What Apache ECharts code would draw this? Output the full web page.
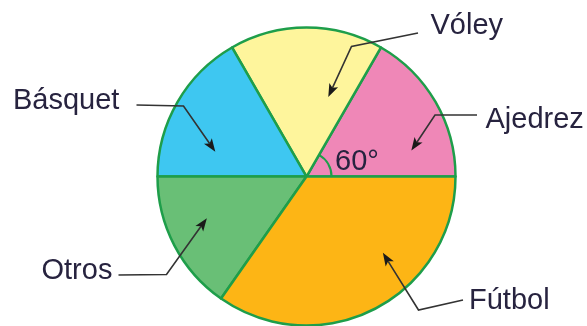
<!DOCTYPE html>
<html>
<head>
<meta charset="utf-8">
<script src="https://cdn.jsdelivr.net/npm/echarts@6/dist/echarts.min.js"></script>
<style>
  html, body { margin: 0; padding: 0; background: #ffffff; }
  #chart { width: 587px; height: 326px; }
</style>
</head>
<body>
<div id="chart"></div>
<script>
// Sports preference, in degrees of the circle
var categories = ['Ajedrez', 'Vóley', 'Básquet', 'Otros', 'Fútbol'];
var degrees = [60, 60, 60, 55, 125];
var sliceColors = ['#EF87B7', '#FEF59C', '#3EC7F1', '#69BF76', '#FDB515'];

// Callout geometry: arrow tip as (angle in degrees, fraction of radius),
// then the elbow point and the label anchor (left edge, text middle)
var tipPolar = [[13.9, 0.72], [74.7, 0.55], [164.8, 0.63], [202.7, 0.72], [315, 0.72]];
var elbows = [[435, 115], [351.5, 46.5], [183.5, 106], [166.5, 274.5], [418.5, 310]];
var lineEnds = [[477, 115], [418, 33], [136.5, 105], [118.5, 275], [463, 300]];
var labelPos = [[485.5, 119.5], [430.5, 26], [13, 100.5], [41.5, 270.5], [469, 301]];

var CX = 306.5, CY = 176.5, R = 150;
var textFont = '29px "Liberation Sans", Arial, sans-serif';
var textColor = '#27233F';
var lineColor = '#333333';

var chart = echarts.init(document.getElementById('chart'), null, { renderer: 'canvas' });

var graphics = [];

// Angle marker for the first slice
var firstAngle = degrees[0] * Math.PI / 180;
graphics.push({
  type: 'arc',
  shape: { cx: CX, cy: CY, r: 25, startAngle: -firstAngle, endAngle: 0, clockwise: true },
  style: { stroke: '#1E9E4A', lineWidth: 2.2, fill: null },
  z: 10
});
graphics.push({
  type: 'text',
  x: 335, y: 162,
  style: { text: degrees[0] + '°', font: textFont, fill: textColor, textAlign: 'left', textVerticalAlign: 'middle' },
  z: 10
});

categories.forEach(function (name, i) {
  var a = tipPolar[i][0] * Math.PI / 180;
  var r = tipPolar[i][1] * R;
  var tx = CX + r * Math.cos(a);
  var ty = CY - r * Math.sin(a);
  var ex = elbows[i][0], ey = elbows[i][1];
  // direction from elbow to tip
  var dx = tx - ex, dy = ty - ey;
  var len = Math.sqrt(dx * dx + dy * dy);
  var ux = dx / len, uy = dy / len;
  var headLen = 13, headHalf = 4.8;
  var bx = tx - ux * headLen, by = ty - uy * headLen;
  graphics.push({
    type: 'polyline',
    shape: { points: [lineEnds[i], [ex, ey], [bx + ux * 3, by + uy * 3]] },
    style: { stroke: lineColor, lineWidth: 1.6, fill: null },
    z: 10
  });
  graphics.push({
    type: 'polygon',
    shape: { points: [
      [tx, ty],
      [bx - uy * headHalf, by + ux * headHalf],
      [bx + ux * 3, by + uy * 3],
      [bx + uy * headHalf, by - ux * headHalf]
    ] },
    style: { fill: '#1A1A1A', stroke: null },
    z: 10
  });
  graphics.push({
    type: 'text',
    x: labelPos[i][0], y: labelPos[i][1],
    style: { text: name, font: textFont, fill: textColor, textAlign: 'left', textVerticalAlign: 'middle' },
    z: 10
  });
});

chart.setOption({
  animation: false,
  backgroundColor: '#ffffff',
  series: [{
    type: 'pie',
    center: [CX, CY],
    radius: R - 1,
    startAngle: 0,
    clockwise: false,
    avoidLabelOverlap: false,
    label: { show: false },
    labelLine: { show: false },
    emphasis: { disabled: true },
    itemStyle: { borderColor: '#1E9E4A', borderWidth: 2.5 },
    data: categories.map(function (c, i) {
      return { name: c, value: degrees[i], itemStyle: { color: sliceColors[i] } };
    })
  }],
  graphic: graphics
});
</script>
</body>
</html>
